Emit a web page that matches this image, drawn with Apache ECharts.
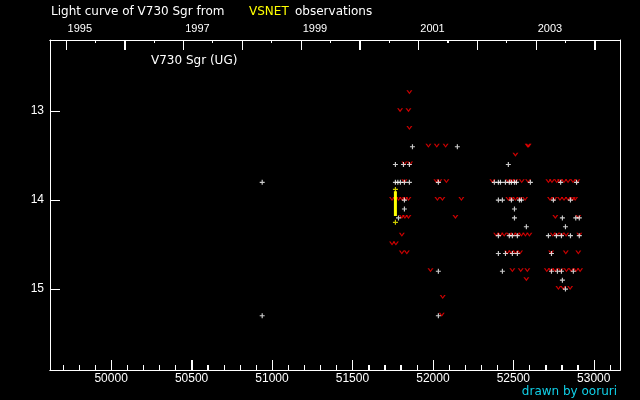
<!DOCTYPE html>
<html>
<head>
<meta charset="utf-8">
<script src="https://cdn.jsdelivr.net/npm/echarts@6/dist/echarts.min.js"></script>
<style>
html,body{margin:0;padding:0;background:#000;}
#chart{width:640px;height:400px;}
</style>
</head>
<body>
<div id="chart"></div>
<script>
// ---- data (JD-2400000, magnitude) ----
var positiveObs = [
  [50939,13.8],[50939,15.3],
  [51873,13.4],[52152,13.4],
  [51767,13.6],[51817,13.6],[51854,13.6],
  [51767,13.8],[51782,13.8],[51798,13.8],[51823,13.8],[51854,13.8],[52034,13.8],
  [51823,14.0],[51823,14.1],[51786,14.2],
  [52034,14.8],[52034,15.3],
  [52469,13.6],
  [52382,13.8],[52407,13.8],[52420,13.8],[52451,13.8],[52475,13.8],[52488,13.8],[52507,13.8],[52519,13.8],[52606,13.8],[52794,13.8],[52893,13.8],
  [52407,14.0],[52432,14.0],[52488,14.0],[52538,14.0],[52550,14.0],[52749,14.0],[52855,14.0],
  [52507,14.1],
  [52507,14.2],[52805,14.2],[52888,14.2],[52910,14.2],
  [52581,14.3],[52824,14.3],
  [52407,14.4],[52475,14.4],[52494,14.4],[52525,14.4],[52718,14.4],[52768,14.4],[52799,14.4],[52855,14.4],[52910,14.4],
  [52407,14.6],[52451,14.6],[52494,14.6],[52525,14.6],[52737,14.6],
  [52432,14.8],[52737,14.8],[52774,14.8],[52799,14.8],[52873,14.8],
  [52805,14.9],[52824,15.0]
];
var fainterThan = [
  [51854,12.8],[51796,13.0],[51848,13.0],[51854,13.2],
  [51972,13.4],[52024,13.4],[52079,13.4],
  [51823,13.6],[51858,13.6],
  [51823,13.8],[52022,13.8],[52040,13.8],[52084,13.8],
  [51746,14.0],[51767,14.0],[51786,14.0],[51809,14.0],[51827,14.0],[51848,14.0],[52028,14.0],[52059,14.0],[52177,14.0],
  [51807,14.2],[51826,14.2],[51848,14.2],[52140,14.2],
  [51807,14.4],[51746,14.5],[51770,14.5],[51807,14.6],[51838,14.6],
  [51985,14.8],[52061,15.1],[52055,15.3],
  [52589,13.4],[52595,13.4],[52513,13.5],
  [52370,13.8],[52469,13.8],[52490,13.8],[52513,13.8],[52552,13.8],[52592,13.8],[52718,13.8],[52740,13.8],[52770,13.8],[52790,13.8],[52815,13.8],[52840,13.8],[52871,13.8],[52898,13.8],
  [52469,14.0],[52488,14.0],[52513,14.0],[52538,14.0],[52573,14.0],[52728,14.0],[52755,14.0],[52790,14.0],[52815,14.0],[52840,14.0],[52870,14.0],[52884,14.0],
  [52761,14.2],[52904,14.2],
  [52393,14.4],[52420,14.4],[52443,14.4],[52475,14.4],[52500,14.4],[52525,14.4],[52550,14.4],[52575,14.4],[52600,14.4],[52745,14.4],[52770,14.4],[52800,14.4],[52828,14.4],[52910,14.4],
  [52463,14.6],[52488,14.6],[52513,14.6],[52542,14.6],[52735,14.6],[52826,14.6],[52904,14.6],
  [52494,14.8],[52546,14.8],[52587,14.8],[52708,14.8],[52735,14.8],[52760,14.8],[52795,14.8],[52830,14.8],[52860,14.8],[52890,14.8],[52915,14.8],
  [52581,14.9],
  [52780,15.0],[52810,15.0],[52853,15.0]
];
var ccdObs = [[51767,13.88],[51767,14.25]];
var ccdBar = [[51767,13.9],[51767,14.18]];

// ---- ticks & labels ----
var jdMajor = [50000,50500,51000,51500,52000,52500,53000];
var jdMinor = [49700,49800,49900,50100,50200,50300,50400,50600,50700,50800,50900,51100,51200,51300,51400,51600,51700,51800,51900,52100,52200,52300,52400,52600,52700,52800,52900,53100];
var yearStarts = [49718.5,50083.5,50449.5,50814.5,51179.5,51544.5,51910.5,52275.5,52640.5,53005.5];
var yearMids = [49900,50265,50630,50996,51361,51727,52092,52457,52822];
var yearLabelJD = [49718.5,50449.5,51179.5,51910.5,52640.5];
var yearLabels = ['1995','1997','1999','2001','2003'];
var magTicks = [13,14,15];

var X_MIN = 49620, X_MAX = 53163;
var Y_MIN = 12.2, Y_MAX = 15.91;
var FONT = 'DejaVu Sans';

var chart = echarts.init(document.getElementById('chart'));
var plusPath = 'path://M2,0H3.2V2H5.2V3.2H3.2V5.2H2V3.2H0V2H2Z';
var vPath = 'path://M0,0H1.6L3,2.2L4.4,0H6L3,4Z';

function txt(color){ return {color:color, fontFamily:FONT, fontSize:12, fontWeight:'normal'}; }
function gridAt(){ return {left:50, right:20, top:40, bottom:30}; }
function xAxisFor(g, pos, tickVals, tickLen, label){
  return {type:'value', gridIndex:g, min:X_MIN, max:X_MAX, position:pos, splitLine:{show:false},
    axisLine:{show:true, onZero:false, lineStyle:{color:'#fff', width:1}},
    axisTick:{show:true, inside:true, length:tickLen, customValues:tickVals, lineStyle:{color:'#fff'}},
    axisLabel:label};
}
function hiddenY(g, pos, lineShow){
  return {type:'value', gridIndex:g, inverse:true, min:Y_MIN, max:Y_MAX, position:pos, splitLine:{show:false},
    axisLine:{show:lineShow, onZero:false, lineStyle:{color:'#fff'}},
    axisTick:{show:false}, axisLabel:{show:false}};
}
// tick marks drawn through the axis scales (custom series), one per tick value
function tickSeries(values, edgeMag, len, dir){
  return {type:'custom', xAxisIndex:0, yAxisIndex:0, silent:true, clip:false, z:5,
    encode:{x:0, y:1},
    data: values.map(function(v){ return [v, edgeMag]; }),
    renderItem:function(params, api){
      var p = api.coord([api.value(0), api.value(1)]);
      var x = Math.round(p[0]) + 0.5;
      return {type:'line', shape:{x1:x, y1:p[1], x2:x, y2:p[1] + dir*len},
        style:{stroke:'#ffffff', lineWidth:1}};
    }};
}

chart.setOption({
  backgroundColor:'#000',
  animation:false,
  title:[
    {text:'Light curve of V730 Sgr from', left:51, top:6, padding:0, textStyle:txt('#fff')},
    {text:'VSNET', left:249, top:6, padding:0, textStyle:txt('#ffff00')},
    {text:'observations', left:295, top:6, padding:0, textStyle:txt('#fff')},
    {text:'V730 Sgr (UG)', left:151, top:55, padding:0, textStyle:txt('#fff')},
    {text:'drawn by ooruri', right:23, bottom:2, padding:0, textStyle:txt('#10d0e8')}
  ],
  grid:[gridAt(), gridAt(), gridAt(), gridAt()],
  xAxis:[
    xAxisFor(0, 'bottom', jdMajor, 10,
      {show:true, customValues:jdMajor, margin:3, color:'#fff', fontSize:12, formatter:function(v){return String(v);}}),
    xAxisFor(1, 'bottom', jdMinor, 5, {show:false}),
    xAxisFor(2, 'top', yearStarts, 10,
      {show:true, customValues:yearLabelJD, margin:6, color:'#fff', fontSize:11, padding:[0,0,0,28],
        formatter:function(v){var i=yearLabelJD.indexOf(v); return i>=0?yearLabels[i]:'';}}),
    xAxisFor(3, 'top', yearMids, 3, {show:false})
  ],
  yAxis:[
    {type:'value', gridIndex:0, inverse:true, min:Y_MIN, max:Y_MAX, splitLine:{show:false},
      axisLine:{show:true, onZero:false, lineStyle:{color:'#fff'}},
      axisTick:{show:true, inside:true, length:10, customValues:magTicks, lineStyle:{color:'#fff'}},
      axisLabel:{show:true, customValues:magTicks, margin:6, color:'#fff', fontSize:12}},
    hiddenY(1, 'right', true),
    hiddenY(2, 'left', false),
    hiddenY(3, 'left', false)
  ],
  series:[
    tickSeries(jdMajor, Y_MAX, 10, -1),
    tickSeries(jdMinor, Y_MAX, 5, -1),
    tickSeries(yearStarts, Y_MIN, 10, 1),
    tickSeries(yearMids, Y_MIN, 3, 1),
    {type:'scatter', name:'fainter', xAxisIndex:0, yAxisIndex:0, data:fainterThan, symbol:vPath, symbolSize:[6,4], symbolOffset:[0,-1],
      itemStyle:{color:'#ff0000'}, silent:true},
    {type:'scatter', name:'visual', xAxisIndex:0, yAxisIndex:0, data:positiveObs, symbol:plusPath, symbolSize:5,
      itemStyle:{color:'#ffffff'}, silent:true},
    {type:'line', name:'ccdbar', xAxisIndex:0, yAxisIndex:0, data:ccdBar, showSymbol:false, symbol:'none',
      lineStyle:{color:'#ffff00', width:3}, silent:true},
    {type:'scatter', name:'ccd', xAxisIndex:0, yAxisIndex:0, data:ccdObs, symbol:plusPath, symbolSize:5,
      itemStyle:{color:'#ffff00'}, silent:true}
  ]
});
</script>
</body>
</html>
